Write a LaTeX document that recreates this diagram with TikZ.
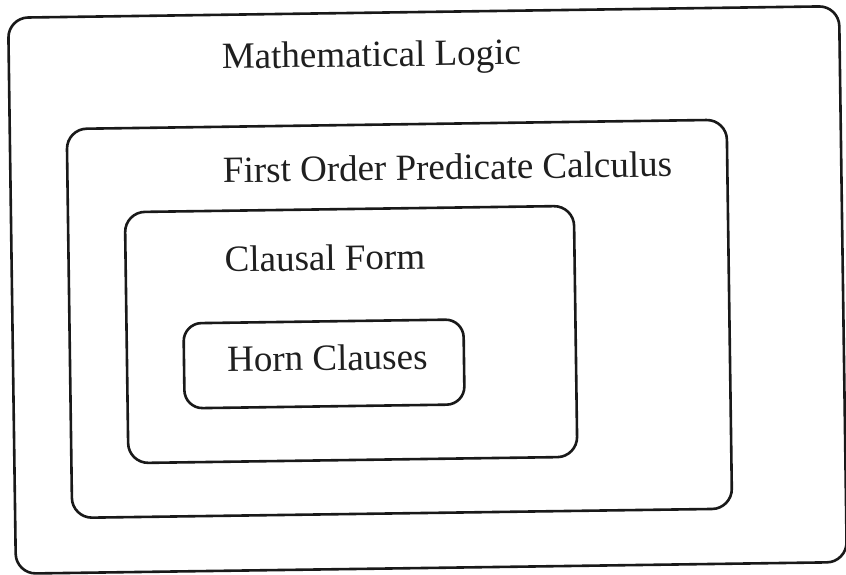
\documentclass[tikz,border=0pt]{standalone}
\usepackage{fontspec}
\setmainfont{Liberation Serif}
\begin{document}
\begin{tikzpicture}[x=1pt,y=-1pt,
  box/.style={draw=black!90,line width=2.6pt,rounded corners=20pt},
  lbl/.style={anchor=base west,inner sep=0pt,text=black!88,font=\fontsize{37}{44}\selectfont}]
\useasboundingbox (0,0) rectangle (846,575);
\fill[white] (0,0) rectangle (846,575);
\begin{scope}[rotate around={0.8:(423,290)},transform shape]
  \draw[box] (12,12) rectangle (843,568);
  \draw[box] (69,124) rectangle (729,513);
  \draw[box] (126,208) rectangle (575,459);
  \draw[box,rounded corners=18pt] (183,320) rectangle (463,405);
  \node[lbl] (ml) at (225,66) {Mathematical Logic};
  \node[lbl] (fopc) at (224.5,180) {First Order Predicate Calculus};
  \node[lbl] (cf) at (225,269) {Clausal Form};
  \node[lbl] (hc) at (226,369) {Horn Clauses};
\end{scope}
\end{tikzpicture}
\end{document}
